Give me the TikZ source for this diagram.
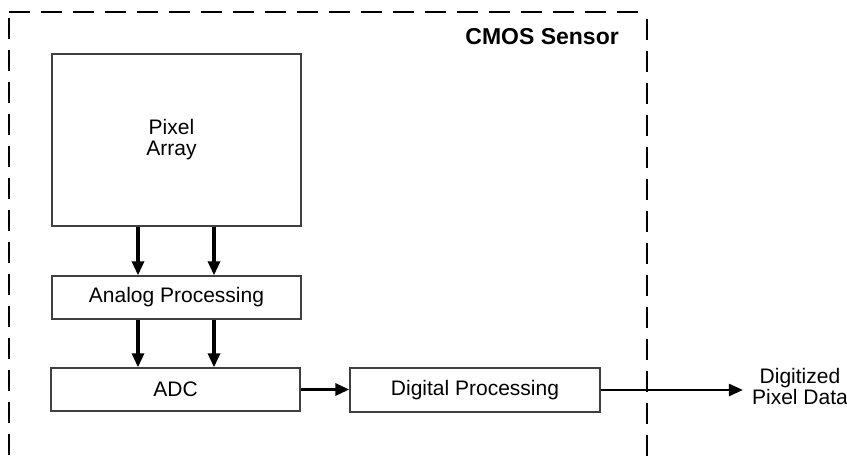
\documentclass[tikz,border=0pt]{standalone}
\usepackage{fontspec}
\setmainfont{Liberation Sans}
\usetikzlibrary{arrows.meta,calc}

\begin{document}
\begin{tikzpicture}[x=1pt,y=-1pt,
  block/.style={draw=black!75, line width=1.4pt, fill=white, inner sep=0pt,
    font=\fontsize{21}{21}\selectfont, align=center},
  flow/.style={line width=3.2pt, -{Triangle[length=14pt,width=12pt]}},
  outflow/.style={line width=2.4pt, -{Triangle[length=14pt,width=12pt]}},
  border/.style={line width=2.4pt, dash pattern=on 21pt off 11pt},
  lbl/.style={inner sep=0pt, font=\fontsize{21}{21}\selectfont, align=center},
]
\useasboundingbox (0,0) rectangle (847,464);

% sensor outline (open at the bottom)
\coordinate (tl) at (9,12);
\coordinate (tr) at (647,12);
\coordinate (ls) at (9,18);
\coordinate (le) at (9,470);
\coordinate (rs) at (647,19);
\coordinate (re) at (647,470);
\draw[border] (tl) -- (tr);
\draw[border] (ls) -- (le);
\draw[border] (rs) -- (re);

\node[anchor=base east, inner sep=0pt, font=\fontsize{23}{23}\selectfont\bfseries]
  (title) at (619,44.5) {CMOS Sensor};

% processing blocks
\node[block, minimum width=249pt, minimum height=172pt] (pix) at (176.5,140) {\kern-10pt Pixel\\\kern-10pt Array};
\node[block, minimum width=249pt, minimum height=43pt] (ana) at (176.5,297.5) {Analog Processing};
\node[block, minimum width=249pt, minimum height=43pt] (adc) at (175.5,389.5) {ADC};
\node[block, minimum width=250pt, minimum height=44pt] (dig) at (475,390) {Digital Processing};

\node[lbl, inner xsep=9pt] (out) at (800,386) {Digitized\\Pixel Data};

% data paths
\draw[flow] ($(pix.south)+(-38.5,0)$) -- ($(ana.north)+(-38.5,0)$);
\draw[flow] ($(pix.south)+(37.5,0)$) -- ($(ana.north)+(37.5,0)$);
\draw[flow] ($(ana.south)+(-38.5,0)$) -- ($(adc.north)+(-37.5,0)$);
\draw[flow] ($(ana.south)+(37.5,0)$) -- ($(adc.north)+(38.5,0)$);
\draw[flow] (adc.east) -- (adc.east -| dig.west);
\draw[outflow] (dig.east) -- (dig.east -| out.west);
\end{tikzpicture}
\end{document}
